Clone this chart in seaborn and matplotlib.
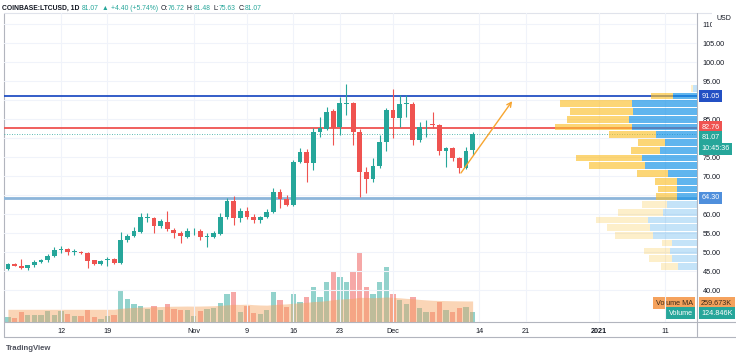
import numpy as np
import pandas as pd
import matplotlib
matplotlib.use('Agg')
import matplotlib.pyplot as plt
import seaborn as sns
from matplotlib import transforms

# ---- data (daily candles, Oct 4 - Dec 13 2020) ----
start_date = '2020-10-04'
opens = [45.5, 46.8, 46.3, 45.9, 46.6, 47.3, 47.8, 48.9, 50.5, 50.7,
         50.0, 49.9, 49.8, 47.8, 46.9, 47.8, 48.2, 47.0, 53.1, 54.3,
         55.3, 59.0, 58.9, 56.8, 57.8, 55.8, 55.1, 54.0, 55.7, 55.6,
         54.0, 54.0, 54.7, 59.1, 63.3, 59.0, 60.9, 59.3, 58.4, 59.3,
         60.6, 65.9, 63.9, 62.4, 73.8, 76.4, 73.5, 81.7, 82.5, 87.1,
         83.0, 89.0, 89.1, 81.7, 71.1, 69.1, 72.6, 78.9, 87.5, 85.2,
         88.9, 88.9, 79.5, 83.6, 83.6, 83.4, 76.7, 77.3, 74.7, 72.2,
         76.72]
highs = [47.0, 47.2, 48.1, 46.7, 47.8, 48.2, 49.5, 51.4, 51.7, 51.0,
         50.9, 50.2, 50.1, 48.0, 47.8, 48.8, 48.5, 55.3, 54.7, 56.6,
         60.2, 60.3, 59.3, 58.6, 60.9, 56.2, 55.5, 56.3, 56.2, 56.0,
         55.0, 55.6, 60.2, 64.1, 64.7, 61.5, 61.8, 60.0, 59.6, 61.2,
         66.8, 66.5, 65.0, 74.3, 77.3, 77.0, 82.6, 85.6, 88.2, 87.6,
         90.9, 94.1, 89.6, 82.5, 72.3, 74.7, 80.8, 88.0, 92.8, 91.3,
         91.3, 89.4, 84.3, 84.7, 86.8, 83.6, 77.6, 77.7, 75.0, 77.7,
         81.48]
lows = [45.2, 46.2, 45.6, 45.3, 46.0, 47.0, 47.5, 48.6, 49.7, 49.2,
        49.3, 49.4, 45.7, 46.6, 46.5, 46.2, 46.8, 46.9, 52.6, 53.9,
        55.0, 58.0, 55.0, 56.3, 55.6, 53.6, 52.3, 53.7, 54.5, 53.2,
        51.4, 53.6, 54.4, 58.8, 57.1, 57.9, 58.8, 57.7, 57.6, 58.9,
        60.2, 61.5, 62.0, 62.0, 73.3, 68.5, 71.6, 80.3, 82.2, 78.2,
        80.8, 86.1, 78.2, 64.6, 65.4, 68.5, 72.2, 76.7, 79.9, 83.0,
        85.6, 78.2, 78.9, 80.3, 82.7, 75.5, 72.3, 73.9, 70.7, 71.8,
        75.63]
closes = [46.8, 46.4, 45.9, 46.5, 47.3, 47.9, 48.9, 50.5, 50.6, 50.0,
          50.1, 49.7, 47.6, 46.9, 47.6, 48.1, 47.0, 53.2, 54.3, 55.6,
          59.3, 59.1, 56.8, 58.2, 56.0, 54.9, 54.2, 55.6, 55.8, 53.9,
          54.1, 54.9, 59.1, 63.5, 58.9, 60.9, 59.3, 58.4, 59.3, 60.6,
          65.9, 63.9, 62.4, 73.8, 76.4, 73.5, 81.7, 82.6, 86.9, 82.6,
          89.1, 89.2, 81.7, 71.1, 69.1, 72.6, 78.9, 87.5, 85.2, 88.9,
          89.0, 79.5, 83.0, 83.7, 83.4, 76.7, 77.3, 74.7, 72.2, 76.7,
          81.07]
# daily volume, thousands of LTC
volumes = [62, 53, 124, 83, 83, 83, 132, 90, 140, 95,
           70, 70, 144, 62, 41, 70, 83, 399, 288, 219,
           201, 164, 201, 144, 219, 161, 152, 144, 70, 132,
           161, 177, 235, 350, 367, 124, 194, 111, 99, 148,
           370, 272, 185, 346, 247, 309, 432, 309, 494, 618,
           556, 494, 618, 865, 432, 346, 494, 679, 346, 272,
           222, 309, 173, 124, 124, 247, 148, 124, 173, 185,
           124.846]
# 20-day volume moving average as plotted, thousands
vol_ma = [157, 157, 157, 157, 157, 157, 157, 157, 157, 157,
          157, 157, 157, 157, 157, 157, 157, 168, 175, 180,
          184, 186, 189, 191, 193, 195, 196, 197, 196, 197,
          199, 201, 205, 212, 218, 217, 220, 214, 210, 208,
          215, 220, 224, 232, 237, 243, 252, 256, 264, 275,
          283, 287, 293, 305, 303, 300, 303, 309, 304, 299,
          292, 287, 279, 273, 268, 266, 264, 262, 261, 260,
          259.673]

# horizontal levels drawn on the chart
level_prices = [91.05, 82.76, 64.30]
level_colors = ['#2350c4', '#ef5350', '#8db6da']
level_widths = [1.3, 1.3, 2.0]
last_price = 81.07

# hand drawn arrow (candle index, price)
arrow_x = [68.0, 76.2]
arrow_y = [70.2, 90.3]

# visible range volume profile, 24 rows, bottom to top
vp_up = [19, 25, 27, 25, 44, 47, 49, 34, 30, 20, 20, 20, 29, 52, 55, 37,
         32, 41, 65, 68, 64, 65, 24, 4]
vp_down = [17, 23, 26, 10, 38, 43, 52, 45, 25, 21, 19, 22, 31, 56, 66, 29,
           27, 47, 77, 62, 63, 72, 22, 2]
value_area_rows = range(9, 23)

price_ticks = [40, 45, 50, 55, 60, 70, 75, 85, 95, 100, 105, 110]
tick_dates = ['2020-10-12', '2020-10-19', '2020-11-01', '2020-11-09', '2020-11-16',
              '2020-11-23', '2020-12-01', '2020-12-14', '2020-12-21', '2021-01-01',
              '2021-01-11']
tick_labels = ['12', '19', 'Nov', '9', '16', '23', 'Dec', '14', '21', '2021', '11']

UP = '#26a69a'
DOWN = '#ef5350'
TXT = '#131722'

sns.set_theme(style='white')
plt.rcParams['font.family'] = ['Liberation Sans', 'DejaVu Sans']

df = pd.DataFrame({'o': opens, 'h': highs, 'l': lows, 'c': closes, 'v': volumes, 'ma': vol_ma})
df['x'] = np.arange(len(df))
df['dir'] = np.where(df.c >= df.o, 'up', 'down')
t0 = pd.Timestamp(start_date)
tick_pos = [(pd.Timestamp(d) - t0).days for d in tick_dates]

W, H = 736, 355
fig = plt.figure(figsize=(W / 100, H / 100), dpi=100)
fig.patch.set_facecolor('white')
rect = [4 / W, 33 / H, 693 / W, 309 / H]
ax_v = fig.add_axes(rect)
ax = fig.add_axes(rect, sharex=ax_v)
ax_p = fig.add_axes(rect, sharey=ax)
ax_v.set_zorder(1)
ax.set_zorder(2)
ax_p.set_zorder(3)
ax.patch.set_visible(False)
ax_p.patch.set_visible(False)

XL = (-0.59, 103.8)
YL = (31.58, 112.9)

# volume pane
sns.barplot(data=df, x='x', y='v', hue='dir', palette={'up': UP, 'down': DOWN},
            native_scale=True, dodge=False, width=0.8, saturation=1, alpha=0.5,
            errorbar=None, legend=False, linewidth=0, ax=ax_v)
ax_v.fill_between(df.x, 0, df.ma, color='#f5a25d', alpha=0.45, lw=0)
ax_v.set_ylim(0, 309 * 12.35)
ax_v.set_xlabel('')
ax_v.set_ylabel('')
ax_v.tick_params(left=False, bottom=False, labelleft=False, labelbottom=False)

# grid
for p in range(40, 115, 5):
    ax.axhline(p, color='#f0f3fa', lw=0.8, zorder=0)
for tp in tick_pos:
    ax.axvline(tp, color='#f0f3fa', lw=0.8, zorder=0)

# candles
cols = np.where(df.dir == 'up', UP, DOWN)
ax.vlines(df.x, df.l, df.h, colors=cols, lw=0.8, zorder=3)
body = (df.c - df.o).abs().clip(lower=0.2)
ax.bar(df.x, body, bottom=np.minimum(df.o, df.c), width=0.72, color=cols, linewidth=0, zorder=4)

# levels
for p, c, w in zip(level_prices, level_colors, level_widths):
    ax.axhline(p, color=c, lw=w, zorder=2)
ax.axhline(last_price, color=UP, lw=0.6, ls=(0, (1, 2)), zorder=2)

ax.annotate('', xy=(arrow_x[1], arrow_y[1]), xytext=(arrow_x[0], arrow_y[0]),
            arrowprops=dict(arrowstyle='->', color='#f7a530', lw=1.0, mutation_scale=8), zorder=5)

# volume profile
edges = np.linspace(min(lows), max(highs), len(vp_up) + 1)
row_h = edges[1] - edges[0]
centers = edges[:-1] + row_h / 2
for k in range(len(vp_up)):
    inside = k in value_area_rows
    cu = (21 / 255, 146 / 255, 230 / 255, 0.68 if inside else 0.25)
    cd = (251 / 255, 192 / 255, 45 / 255, 0.65 if inside else 0.25)
    ax_p.barh(centers[k], vp_up[k], left=0, height=row_h * 0.86, color=cu, lw=0)
    ax_p.barh(centers[k], vp_down[k], left=vp_up[k], height=row_h * 0.86, color=cd, lw=0)
ax_p.set_xlim(693, 0)
ax_p.tick_params(left=False, bottom=False, top=False, right=False,
                 labelleft=False, labelbottom=False, labeltop=False, labelright=False)

ax.set_xlim(*XL)
ax.set_ylim(*YL)
ax.yaxis.tick_right()
ax.set_yticks(price_ticks)
ax.yaxis.set_major_formatter(matplotlib.ticker.FormatStrFormatter('%.2f'))
ax.tick_params(axis='y', length=0, pad=4, labelsize=5.2, labelcolor=TXT)
ax.set_xticks(tick_pos)
ax.set_xticklabels(tick_labels)
ax.tick_params(axis='x', length=0, pad=4, labelsize=5.2, labelcolor=TXT)
for lab in ax.get_xticklabels():
    if lab.get_text() == '2021':
        lab.set_fontweight('bold')
for a in (ax, ax_v, ax_p):
    for s in a.spines.values():
        s.set_visible(False)

# price tags on the right axis
tr = transforms.blended_transform_factory(ax.transAxes, ax.transData)


def tag(price, text, fc, dy_pts=0, tc='white'):
    ax.annotate(text, xy=(1.0, price), xycoords=tr, xytext=(3, dy_pts), textcoords='offset points',
                ha='left', va='center', fontsize=5.2, color=tc, annotation_clip=False,
                bbox=dict(boxstyle='square,pad=0.35', fc=fc, ec='none'), zorder=10)


tag(91.05, '91.05', '#2350c4')
tag(82.76, '82.76', '#ef5350')
tag(last_price, '81.07', UP, dy_pts=-2.5)
tag(last_price, '10:45:36', UP, dy_pts=-10.5)
tag(64.30, '64.30', '#4f8fdc')

trv = transforms.blended_transform_factory(ax_v.transAxes, ax_v.transData)
for val, name, txt, fc, tc, dy in [(vol_ma[-1], 'Volume MA', '259.673K', '#f5a25d', '#3b2a1a', -1.5),
                                   (volumes[-1], 'Volume', '124.846K', UP, 'white', -1.0)]:
    ax_v.annotate(txt, xy=(1.0, val), xycoords=trv, xytext=(3, dy), textcoords='offset points',
                  ha='left', va='center', fontsize=5.2, color=tc, annotation_clip=False,
                  bbox=dict(boxstyle='square,pad=0.35', fc=fc, ec='none'), zorder=10)
    ax_v.annotate(name, xy=(1.0, val), xycoords=trv, xytext=(-3, dy), textcoords='offset points',
                  ha='right', va='center', fontsize=5.2, color=tc, annotation_clip=False,
                  bbox=dict(boxstyle='square,pad=0.35', fc=fc, ec='none'), zorder=10)

# USD label, partly covering the top tick label
fig.text(724 / W, 1 - 19 / H, 'USD', ha='center', va='center', fontsize=5.0, color=TXT,
         bbox=dict(boxstyle='square,pad=0.6', fc='white', ec='none'), zorder=20)

# frame
fr = '#b2b5be'
fig.add_artist(plt.Line2D([3.5 / W, 3.5 / W], [1 - 13 / H, 1 - 337 / H], color=fr, lw=0.8))
fig.add_artist(plt.Line2D([3.5 / W, 1], [1 - 13 / H, 1 - 13 / H], color='#e0e3eb', lw=0.8))
fig.add_artist(plt.Line2D([3.5 / W, 1], [1 - 322 / H, 1 - 322 / H], color=fr, lw=0.8))
fig.add_artist(plt.Line2D([3.5 / W, 1], [1 - 337 / H, 1 - 337 / H], color=fr, lw=0.8))
fig.add_artist(plt.Line2D([697 / W, 697 / W], [1 - 13 / H, 1 - 337 / H], color=fr, lw=0.8))

# header
fig.canvas.draw()
rend = fig.canvas.get_renderer()
pieces = [('COINBASE:LTCUSD, 1D', TXT, 'bold'), ('81.07', UP, 'normal'), ('\u25b2', UP, 'normal'),
          ('+4.40 (+5.74%)', UP, 'normal'), ('O:', TXT, 'normal'), ('76.72', UP, 'normal'),
          ('H:', TXT, 'normal'), ('81.48', UP, 'normal'), ('L:', TXT, 'normal'),
          ('75.63', UP, 'normal'), ('C:', TXT, 'normal'), ('81.07', UP, 'normal')]
xpix = 2
for i, (s, c, wgt) in enumerate(pieces):
    t = fig.text(xpix / W, 1 - 8 / H, s, ha='left', va='center', fontsize=4.9, color=c, fontweight=wgt)
    bb = t.get_window_extent(rend)
    gap = 0 if s.endswith(':') else 2.6
    xpix += bb.width + gap

fig.text(6 / W, 1 - 348 / H, 'TradingView', ha='left', va='center', fontsize=5.6,
         color='#50535e', fontweight='bold')

fig.savefig('out.png', dpi=100)
